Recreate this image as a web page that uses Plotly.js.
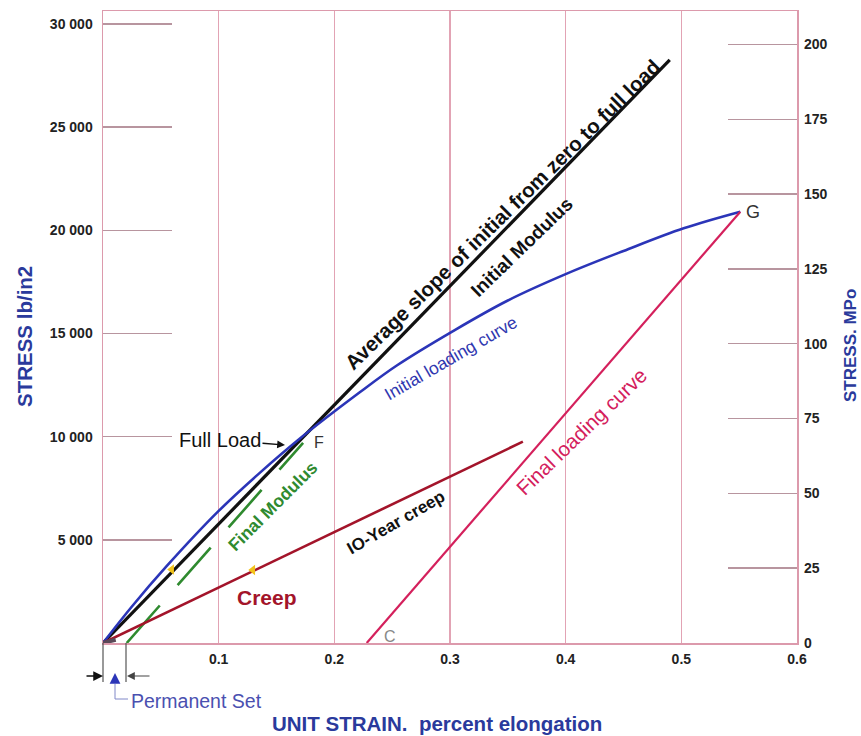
<!DOCTYPE html>
<html><head><meta charset="utf-8">
<script src="https://cdn.plot.ly/plotly-3.0.1.min.js"></script>
<style>html,body{margin:0;padding:0;background:#fff}#chart{width:861px;height:736px}</style>
</head><body><div id="chart"></div>
<script>
// ---- data (strain in percent elongation, stress in lb/in2) ----
const initialStrain = [0, 0.025, 0.055, 0.1, 0.136, 0.17, 0.222, 0.254, 0.303, 0.35, 0.401, 0.45, 0.502, 0.551];
const initialStress = [0, 1770, 3720, 6400, 8270, 9900, 12150, 13450, 15130, 16600, 17900, 19000, 20100, 20905];
const avgSlopeStrain = [0, 0.49];
const avgSlopeStress = [0, 28260];
const finalModStrain = [0.0205, 0.173];
const finalModStress = [0, 9700];
const creepStrain = [0, 0.363];
const creepStress = [0, 9758];
const stubStrain = [0, 0.011];
const stubStress = [0, 160];
const finalLoadStrain = [0.228, 0.551];
const finalLoadStress = [0, 20905];
const markStrain = [0.0594, 0.1295];
const markStress = [3560, 3540];
const xTickVals = [0.1, 0.2, 0.3, 0.4, 0.5, 0.6];
const xTickText = ['0.1', '0.2', '0.3', '0.4', '0.5', '0.6'];
const yTickVals = [5000, 10000, 15000, 20000, 25000, 30000];
const yTickText = ['5 000', '10 000', '15 000', '20 000', '25 000', '30 000'];
const mpaTickVals = [0, 25, 50, 75, 100, 125, 150, 175, 200];
const PSI_PER_MPA = 145.04;
const yMax = 30630;

// pixel -> paper helpers (plot area 103..797 x 11..643)
const L = 103, R = 797, T = 11, B = 643;
const X = p => (p - L) / (R - L);
const Y = p => (B - p) / (B - T);

const traces = [
  {x: avgSlopeStrain, y: avgSlopeStress, mode: 'lines', line: {color: '#111', width: 3.2}},
  {x: initialStrain, y: initialStress, mode: 'lines', line: {color: '#2b35b8', width: 2.6, shape: 'spline', smoothing: 1}},
  {x: finalModStrain, y: finalModStress, mode: 'lines', line: {color: '#2f8a2f', width: 2.6, dash: '50px,27px'}},
  {x: creepStrain, y: creepStress, mode: 'lines', line: {color: '#a3142a', width: 2.6}},
  {x: stubStrain, y: stubStress, mode: 'lines', line: {color: '#5a4a58', width: 4}},
  {x: finalLoadStrain, y: finalLoadStress, mode: 'lines', line: {color: '#d4205c', width: 2.2}},
  {x: markStrain, y: markStress, mode: 'markers', marker: {symbol: 'triangle-left', size: 9, color: '#f2c31c'}},
  {x: [0], y: [0], yaxis: 'y2', mode: 'markers', marker: {opacity: 0}, hoverinfo: 'skip'}
];

const FAM = 'Liberation Sans, Arial, sans-serif';
const tf = {family: FAM, size: 14, color: '#222', weight: 'bold'};
const ann = [];
function txt(px, py, text, size, color, angle, bold, xanchor) {
  ann.push({xref: 'paper', yref: 'paper', x: X(px), y: Y(py), text: text, showarrow: false,
    textangle: angle || 0, xanchor: xanchor || 'center', yanchor: 'middle',
    font: {family: FAM, size: size, color: color, weight: bold ? 'bold' : 'normal'}});
}
txt(502, 214, 'Average slope of initial from zero to full load', 20.5, '#111', -44.5, true);
txt(521, 247, 'Initial Modulus', 19, '#111', -44, true);
txt(451, 358, 'Initial loading curve', 17.5, '#3038b0', -30, false);
txt(581, 431, 'Final loading curve', 20.5, '#d4205c', -44, false);
txt(396, 522, 'IO-Year creep', 17, '#111', -30, true);
txt(273, 506, 'Final Modulus', 17.5, '#2f8a2f', -45, true);
txt(267, 597, 'Creep', 21, '#a3142a', 0, true);
txt(319, 442, 'F', 16, '#333', 0, false);
txt(753, 212, 'G', 18, '#333', 0, false);
txt(390, 636, 'C', 16, '#888', 0, false);
txt(129, 701, 'Permanent Set', 19.5, '#4a50b0', 0, false, 'left');
txt(437, 723, 'UNIT STRAIN.  percent elongation', 20.5, '#2a3a9c', 0, true);
txt(24, 337, 'STRESS lb/in2', 20.5, '#2a3a9c', -90, true);
txt(851, 346, 'STRESS. MPo', 17, '#2a3a9c', -90, true);

// Full Load arrow
ann.push({xref: 'paper', yref: 'paper', x: X(285), y: Y(445), ax: -65, ay: -5, text: 'Full Load',
  showarrow: true, arrowhead: 2, arrowsize: 1.2, arrowwidth: 1.3, arrowcolor: '#111',
  font: {family: FAM, size: 20, color: '#111'}});
// permanent set arrows
ann.push({xref: 'paper', yref: 'paper', x: X(103), y: Y(676), ax: -18, ay: 0, text: '',
  showarrow: true, arrowhead: 2, arrowsize: 1.3, arrowwidth: 1.5, arrowcolor: '#111'});
ann.push({xref: 'paper', yref: 'paper', x: X(127), y: Y(676), ax: 24, ay: 0, text: '',
  showarrow: true, arrowhead: 2, arrowsize: 1.3, arrowwidth: 1.2, arrowcolor: '#444'});
ann.push({xref: 'paper', yref: 'paper', x: X(115), y: Y(673), ax: 0, ay: 10, text: '',
  showarrow: true, arrowhead: 2, arrowsize: 1.8, arrowwidth: 1.2, arrowcolor: '#2b35b8'});

const shapes = [
  {type: 'line', xref: 'paper', yref: 'paper', x0: X(103), x1: X(103), y0: Y(643), y1: Y(682), line: {color: '#555', width: 1.2}},
  {type: 'line', xref: 'paper', yref: 'paper', x0: X(126), x1: X(126), y0: Y(643), y1: Y(682), line: {color: '#555', width: 1.2}},
  {type: 'path', xref: 'paper', yref: 'paper',
   path: `M ${X(115)} ${Y(684)} L ${X(115)} ${Y(699)} L ${X(128)} ${Y(699)}`, line: {color: '#8088c8', width: 1}}
];

const layout = {
  width: 861, height: 736,
  margin: {l: L, r: 861 - R, t: T, b: 736 - B},
  paper_bgcolor: '#fff', plot_bgcolor: '#fff',
  showlegend: false,
  xaxis: {range: [0, 0.6], tickvals: xTickVals, ticktext: xTickText, tickfont: tf,
    showgrid: true, gridcolor: '#e2a3b4', gridwidth: 1.2, zeroline: false,
    showline: true, linecolor: '#dc9aac', linewidth: 1.5, mirror: true, ticks: '', ticklabelstandoff: 3},
  yaxis: {range: [0, yMax], tickvals: yTickVals, ticktext: yTickText, tickfont: tf,
    showgrid: false, zeroline: false, showline: true, linecolor: '#dc9aac', linewidth: 1.5, mirror: true,
    ticks: 'inside', ticklen: 69, tickwidth: 1.5, tickcolor: '#b8959f', ticklabelstandoff: 6},
  yaxis2: {overlaying: 'y', side: 'right', range: [0, yMax / PSI_PER_MPA], tickvals: mpaTickVals, tickfont: tf,
    showgrid: false, zeroline: false, showline: false,
    ticks: 'inside', ticklen: 69, tickwidth: 1.5, tickcolor: '#b8959f', ticklabelstandoff: 6},
  annotations: ann, shapes: shapes
};
Plotly.newPlot('chart', traces, layout, {displayModeBar: false, staticPlot: true});
</script></body></html>
